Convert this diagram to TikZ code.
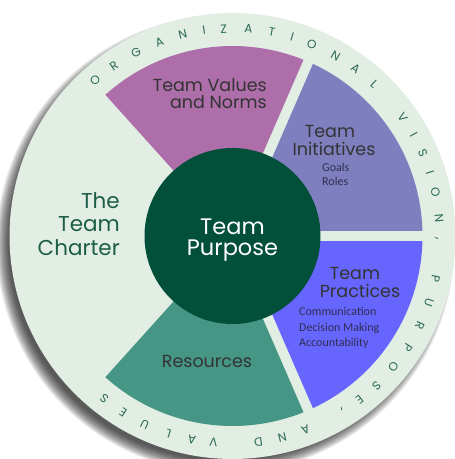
\documentclass[tikz,border=0pt]{standalone}
\usepackage{fontspec}
\setmainfont{Poppins}
\newfontfamily\smallfont{Carlito}
\definecolor{bg}{HTML}{E2EEE4}
\definecolor{valc}{HTML}{AD6EAA}
\definecolor{inic}{HTML}{7F7FBF}
\definecolor{prac}{HTML}{6666FF}
\definecolor{resc}{HTML}{459684}
\definecolor{purc}{HTML}{02503A}
\definecolor{ringtext}{HTML}{2A6A52}
\definecolor{chartc}{HTML}{1D5E48}
\definecolor{labc}{HTML}{333333}
\definecolor{smallc}{HTML}{2E2E50}
\tikzset{
  lab/.style={inner sep=0pt, text=labc, font=\fontsize{17.5}{17.5}\selectfont},
  smalllab/.style={inner sep=0pt, text=smallc, font=\smallfont\fontsize{12}{12}\selectfont, anchor=base west},
  charter/.style={inner sep=0pt, text=chartc, font=\fontsize{21.5}{21.5}\selectfont, anchor=base east},
  purpose/.style={inner sep=0pt, text=white, font=\fontsize{22.5}{22.5}\selectfont, anchor=base},
  ringletter/.style={inner sep=0pt, text=ringtext, font=\fontsize{12}{12}\selectfont},
  gapband/.style={draw=bg, line width=10pt}
}
\begin{document}
\begin{tikzpicture}[x=1pt,y=1pt]
\useasboundingbox (0,0) rectangle (455,459);
\coordinate (C) at (232.5,223);
% shadow
\foreach \k in {0,...,10}
  \fill[black, opacity=0.09] (225.5,215) circle[radius=217+\k*1.2];
% base disc
\fill[bg] (C) circle[radius=223];
% sectors
\fill[valc] (C) -- ++(66.5:190) arc[start angle=66.5, end angle=132, radius=190] -- cycle;
\fill[inic] (C) -- ++(0:190) arc[start angle=0, end angle=66.5, radius=190] -- cycle;
\fill[prac] (C) -- ++(-66.5:190) arc[start angle=-66.5, end angle=0, radius=190] -- cycle;
\fill[resc] (C) -- ++(-132:190) arc[start angle=-132, end angle=-66.5, radius=190] -- cycle;
% gaps
\foreach \a in {66.5,0,-66.5}
  \draw[gapband] (C) -- ++(\a:196);
% centre
\fill[purc] (C) circle[radius=88];
% ring text
\foreach \a/\c [count=\i] in {131.5/O,124.8/R,117.7/G,110.6/A,103.9/N,97.9/I,92.4/Z,85.6/A,79.1/T,73.3/I,67.5/O,60.2/N,53.6/A,46.9/L,
  34.9/V,29.2/I,23.5/S,17.8/I,12.1/O,4.9/N,
  -11.9/P,-18.7/U,-25.5/R,-32.4/P,-39.1/O,-46.1/S,-52.3/E,
  -69.4/A,-76.1/N,-82.8/D,
  -95.3/V,-101.3/A,-108/L,-115/U,-121.8/E,-128.2/S}
  \node[ringletter, rotate=\a-90] (r\i) at ([shift={(\a:207.5)}]C) {\c};
\node[ringletter, rotate=-90.8] (comma1) at ([shift={(-0.8:204)}]C) {,};
\node[ringletter, rotate=-147.8] (comma2) at ([shift={(-57.8:204)}]C) {,};
% labels
\node[charter] (ch1) at (120,250) {The};
\node[charter] (ch2) at (120,227) {Team};
\node[charter] (ch3) at (120,204) {Charter};
\node[purpose] (p1) at (232.5,224) {Team};
\node[purpose] (p2) at (232.5,203) {Purpose};
\node[lab, anchor=base east] (v1) at (267,367) {Team Values};
\node[lab, anchor=base east] (v2) at (267,350) {and Norms};
\node[lab, anchor=base] (i1) at (330,321) {Team};
\node[lab, anchor=base] (i2) at (334,303) {Initiatives};
\node[smalllab] (i3) at (322,287) {Goals};
\node[smalllab] (i4) at (322,273) {Roles};
\node[lab, anchor=base] (t1) at (355,179) {Team};
\node[lab, anchor=base] (t2) at (360,161) {Practices};
\node[smalllab] (t3) at (299,143) {Communication};
\node[smalllab] (t4) at (299,128) {Decision Making};
\node[smalllab] (t5) at (299,113) {Accountability};
\node[lab, anchor=base] (res) at (207,92) {Resources};
\end{tikzpicture}
\end{document}
